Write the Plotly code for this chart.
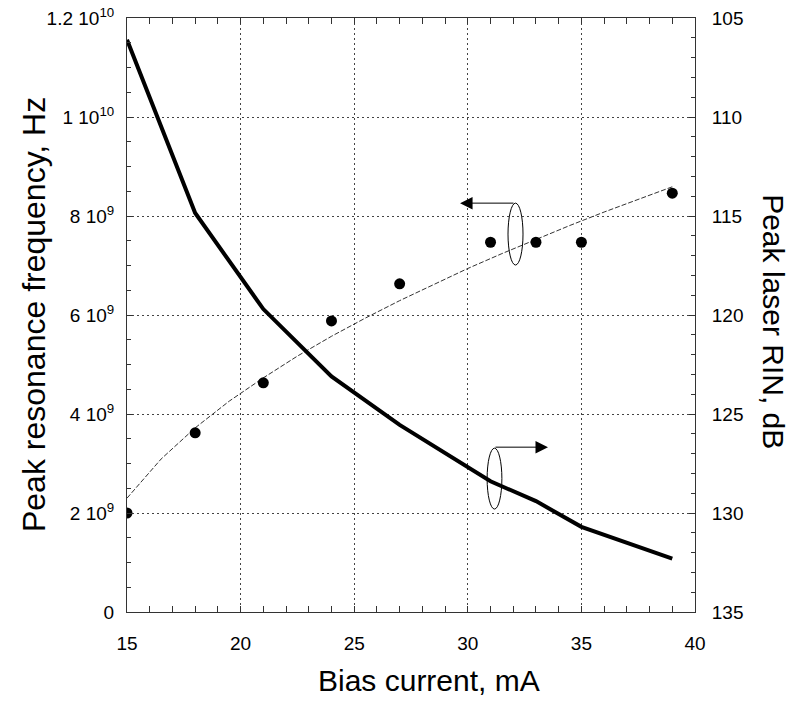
import plotly.graph_objects as go

# ---- data ----
bias_pts = [15, 18, 21, 24, 27, 31, 33, 35, 39]
freq_pts = [2.0e9, 3.62e9, 4.63e9, 5.88e9, 6.63e9, 7.47e9, 7.47e9, 7.47e9, 8.46e9]

fit_bias = [15, 16.5, 18, 19.5, 21, 22.5, 24, 25.5, 27, 28.5, 30, 31.5, 33, 34.5, 36, 37.5, 39]
fit_freq = [2.30e9, 3.09e9, 3.72e9, 4.26e9, 4.73e9, 5.17e9, 5.57e9, 5.94e9, 6.29e9,
            6.62e9, 6.94e9, 7.24e9, 7.53e9, 7.81e9, 8.08e9, 8.34e9, 8.59e9]

rin_bias = [15, 18, 21, 24, 27, 31, 33, 35, 39]
rin_db = [106.1, 114.85, 119.7, 123.1, 125.55, 128.4, 129.4, 130.7, 132.3]

x_ticks = [15, 20, 25, 30, 35, 40]
y_ticks = [0, 2e9, 4e9, 6e9, 8e9, 1e10, 1.2e10]
y_ticktext = ["0", "2 10<sup>9</sup>", "4 10<sup>9</sup>", "6 10<sup>9</sup>",
              "8 10<sup>9</sup>", "1 10<sup>10</sup>", "1.2 10<sup>10</sup>"]
y2_ticks = [105, 110, 115, 120, 125, 130, 135]

FONT = "Liberation Sans, Arial, Helvetica, sans-serif"
AX = "#333333"
GRID = "#444444"

fig = go.Figure()
fig.add_trace(go.Scatter(x=fit_bias, y=fit_freq, mode="lines",
                         line=dict(color="#333333", width=1, dash="5px,2px"),
                         showlegend=False, hoverinfo="skip"))
fig.add_trace(go.Scatter(x=bias_pts, y=freq_pts, mode="markers",
                         marker=dict(color="black", size=11),
                         showlegend=False))
fig.add_trace(go.Scatter(x=rin_bias, y=rin_db, mode="lines", yaxis="y2",
                         line=dict(color="black", width=4),
                         showlegend=False))

# ellipses and arrows
fig.add_shape(type="circle", xref="x", yref="y", x0=31.77, x1=32.43, y0=7.01e9, y1=8.26e9,
              line=dict(color="black", width=1))
fig.add_shape(type="circle", xref="x", yref="y", x0=30.85, x1=31.5, y0=2.08e9, y1=3.31e9,
              line=dict(color="black", width=1))
fig.add_annotation(x=29.66, y=8.26e9, ax=32.08, ay=8.26e9, xref="x", yref="y",
                   axref="x", ayref="y", text="", showarrow=True,
                   arrowhead=2, arrowsize=2.5, arrowwidth=1, arrowcolor="black")
fig.add_annotation(x=33.53, y=3.33e9, ax=31.15, ay=3.33e9, xref="x", yref="y",
                   axref="x", ayref="y", text="", showarrow=True,
                   arrowhead=2, arrowsize=2.5, arrowwidth=1, arrowcolor="black")

# axis titles
fig.add_annotation(text="Bias current, mA", xref="paper", yref="paper",
                   x=0.532, y=-0.1145, xanchor="center", yanchor="middle",
                   showarrow=False, font=dict(size=30, color="black", family=FONT))
fig.add_annotation(text="Peak resonance frequency, Hz", xref="paper", yref="paper",
                   x=-0.1637, y=0.5, xanchor="center", yanchor="middle", textangle=-90,
                   showarrow=False, font=dict(size=32, color="black", family=FONT))
fig.add_annotation(text="Peak laser RIN, dB", xref="paper", yref="paper",
                   x=1.139, y=0.488, xanchor="center", yanchor="middle", textangle=90,
                   showarrow=False, font=dict(size=30, color="black", family=FONT))

fig.update_layout(
    width=793, height=706,
    margin=dict(l=127, r=98, t=18, b=94, autoexpand=False),
    paper_bgcolor="white", plot_bgcolor="white",
    font=dict(family=FONT, color="black", size=19),
    showlegend=False,
    xaxis=dict(range=[15, 40], tickvals=x_ticks, ticks="inside", ticklen=6,
               tickcolor=AX, showline=True, linecolor=AX, linewidth=1,
               mirror="allticks", showgrid=True, gridcolor=GRID, gridwidth=1,
               griddash="2px,3px", zeroline=False, ticklabelstandoff=14,
               automargin=False, ticklabeloverflow="allow", tickfont=dict(size=19),
               minor=dict(dtick=1, ticks="inside", ticklen=4, tickcolor=AX, showgrid=False)),
    yaxis=dict(range=[0, 1.2e10], tickvals=y_ticks, ticktext=y_ticktext,
               ticks="inside", ticklen=6, tickcolor=AX, showline=True,
               linecolor=AX, linewidth=1, mirror=False, showgrid=True,
               gridcolor=GRID, gridwidth=1, griddash="2px,3px", zeroline=False,
               ticklabelstandoff=8, automargin=False, ticklabeloverflow="allow",
               tickfont=dict(size=19),
               minor=dict(dtick=5e8, ticks="inside", ticklen=4, tickcolor=AX, showgrid=False)),
    yaxis2=dict(range=[135, 105], tickvals=y2_ticks, overlaying="y", side="right",
                ticks="inside", ticklen=6, tickcolor=AX, showline=True,
                linecolor=AX, linewidth=1, showgrid=False, zeroline=False,
                ticklabelstandoff=12, automargin=False, ticklabeloverflow="allow",
                tickfont=dict(size=19),
                minor=dict(dtick=1, ticks="inside", ticklen=4, tickcolor=AX)),
)

fig.write_html("out.html", config={"displayModeBar": False},
               post_script="document.body.style.margin='0';document.body.style.overflow='hidden';")
